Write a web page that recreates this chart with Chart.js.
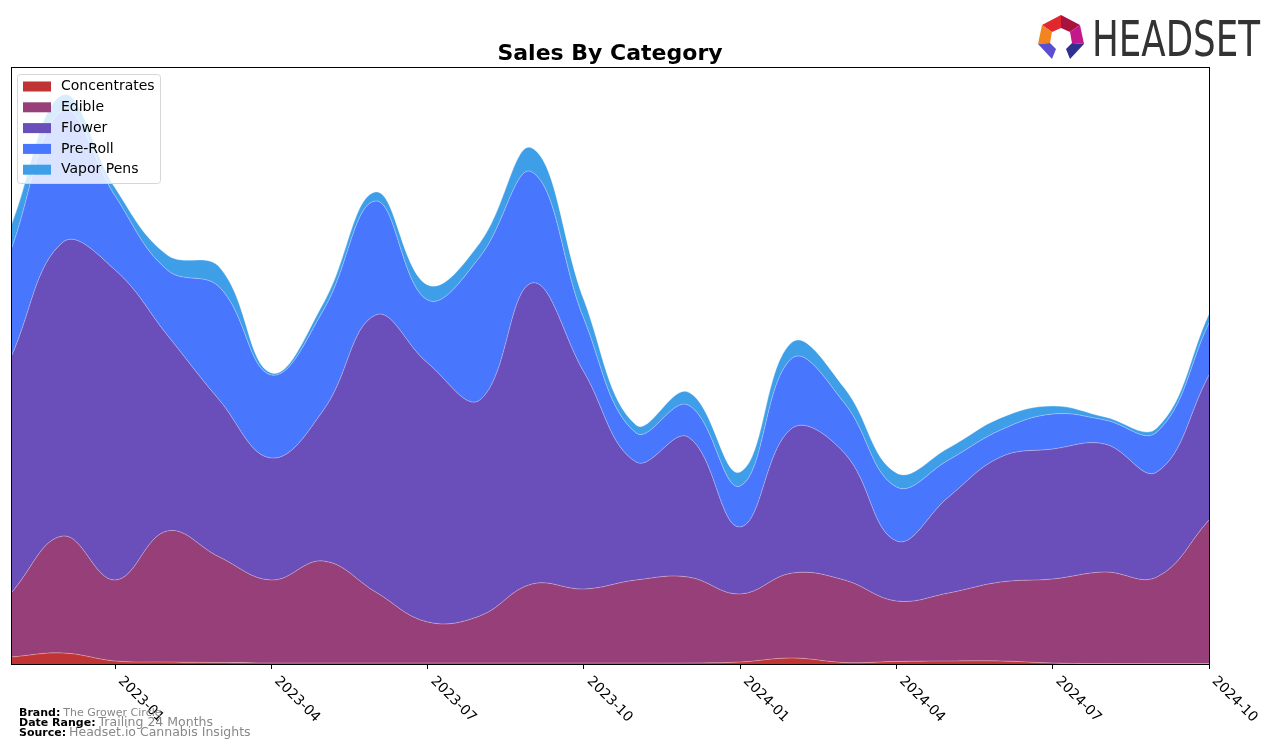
<!DOCTYPE html>
<html>
<head>
<meta charset="utf-8">
<script src="https://cdn.jsdelivr.net/npm/chart.js@4.4.1/dist/chart.umd.min.js"></script>
<style>
  html, body { margin: 0; padding: 0; background: #fff; }
  #wrap { width: 1276px; height: 748px; }
</style>
</head>
<body>
<div id="wrap"><canvas id="salesChart" width="1276" height="748"></canvas></div>
<script>
const months = [
  "2022-11", "2022-12", "2023-01", "2023-02", "2023-03", "2023-04",
  "2023-05", "2023-06", "2023-07", "2023-08", "2023-09", "2023-10",
  "2023-11", "2023-12", "2024-01", "2024-02", "2024-03", "2024-04",
  "2024-05", "2024-06", "2024-07", "2024-08", "2024-09", "2024-10"
];
const tickMonths = ["2023-01", "2023-04", "2023-07", "2023-10", "2024-01", "2024-04", "2024-07", "2024-10"];

const concentrates = [7, 11, 3, 2, 1.5, 1, 1, 1, 1, 1, 1, 1, 1, 1, 2, 6, 1.5, 2.5, 3, 3, 1, 0.5, 0.5, 0.5];
const edible = [64, 117, 81, 131, 105.5, 83, 102, 71, 41, 47, 79, 74, 83, 86, 68, 85, 82.5, 60.5, 68, 79, 84, 91.5, 86.5, 143.5];
const flower = [236, 294, 310, 196, 157, 122, 151, 277, 259, 216, 301, 217, 118, 140, 67, 145, 127, 60, 96, 125, 130, 128, 105, 145];
const preRoll = [107, 132, 74, 65, 113, 83, 100, 114, 63, 143, 111, 53, 29, 32, 41, 70, 50, 54, 37, 27, 35, 24, 40, 52];
const vaporPens = [24, 15, 8, 15, 20, 2, 7, 9, 15, 14, 24, 19, 8, 13, 14, 16, 15, 14, 12, 12, 8, 3, 4, 9];

const seriesNames = ["Concentrates", "Edible", "Flower", "Pre-Roll", "Vapor Pens"];
const seriesColors = ["#c03434", "#973f78", "#6a4fbb", "#4876fd", "#3e9fe8"];
const seriesValues = [concentrates, edible, flower, preRoll, vaporPens];

const FONT = "'DejaVu Sans', sans-serif";

function toPoints(values) {
  return values.map((v, i) => ({ x: i, y: v }));
}

const overlay = {
  id: "overlay",
  afterDatasetsDraw(chart) {
    const { ctx, chartArea } = chart;

    // plot frame
    ctx.save();
    ctx.strokeStyle = "#000";
    ctx.lineWidth = 1;
    ctx.strokeRect(chartArea.left + 0.5, chartArea.top + 0.5,
      chartArea.right - chartArea.left, chartArea.bottom - chartArea.top);
    ctx.restore();

    // legend, matplotlib style
    const lx = chartArea.left + 6;
    const ly = chartArea.top + 7;
    ctx.save();
    ctx.beginPath();
    ctx.roundRect(lx + 0.5, ly + 0.5, 143, 109, 3);
    ctx.fillStyle = "rgba(255,255,255,0.8)";
    ctx.fill();
    ctx.strokeStyle = "#d6d6d6";
    ctx.lineWidth = 1;
    ctx.stroke();
    ctx.font = "14px " + FONT;
    ctx.textBaseline = "middle";
    ctx.textAlign = "left";
    chart.data.datasets.forEach((ds, i) => {
      const cy = ly + 12.5 + i * 20.8;
      ctx.fillStyle = ds.backgroundColor;
      ctx.fillRect(lx + 6, cy - 5, 28, 10);
      ctx.fillStyle = "#000";
      ctx.fillText(ds.label, lx + 44, cy);
    });
    ctx.restore();
  },
  afterDraw(chart) {
    const { ctx, chartArea } = chart;
    const xs = chart.scales.x;

    // title
    ctx.save();
    ctx.fillStyle = "#000";
    ctx.font = "bold 22px " + FONT;
    ctx.textAlign = "center";
    ctx.textBaseline = "alphabetic";
    ctx.fillText("Sales By Category", (chartArea.left + chartArea.right) / 2, 60);
    ctx.restore();

    // rotated tick labels
    ctx.save();
    ctx.font = "13.9px " + FONT;
    ctx.fillStyle = "#000";
    ctx.textAlign = "left";
    ctx.textBaseline = "top";
    tickMonths.forEach((m) => {
      const x = xs.getPixelForValue(months.indexOf(m));
      ctx.save();
      ctx.translate(x + 10, chartArea.bottom + 10);
      ctx.rotate(Math.PI / 4);
      ctx.fillText(m, 0, 0);
      ctx.restore();
    });
    ctx.restore();

    // footer
    ctx.save();
    ctx.textAlign = "left";
    ctx.textBaseline = "alphabetic";
    const rows = [
      ["Brand:", "The Grower Circle", 11, 716],
      ["Date Range:", "Trailing 24 Months", 12.5, 726],
      ["Source:", "Headset.io Cannabis Insights", 12.5, 736]
    ];
    rows.forEach(([label, value, size, y]) => {
      ctx.font = "bold 11px " + FONT;
      ctx.fillStyle = "#000";
      ctx.fillText(label, 19, y);
      const w = ctx.measureText(label).width;
      ctx.font = size + "px " + FONT;
      ctx.fillStyle = "#888";
      ctx.fillText(value, 19 + w + 3, y);
    });
    ctx.restore();

    // logo
    ctx.save();
    const poly = (color, pts) => {
      ctx.beginPath();
      ctx.moveTo(pts[0][0], pts[0][1]);
      pts.slice(1).forEach((p) => ctx.lineTo(p[0], p[1]));
      ctx.closePath();
      ctx.fillStyle = color;
      ctx.fill();
    };
    poly("#e2282e", [[1061, 15], [1042, 25], [1052, 32], [1061, 28]]);
    poly("#a8123e", [[1061, 15], [1080, 25], [1070, 32], [1061, 28]]);
    poly("#f4841f", [[1042, 25], [1038, 44], [1050, 43], [1052, 32]]);
    poly("#c2188b", [[1080, 25], [1084, 44], [1072, 43], [1070, 32]]);
    poly("#5b4fcf", [[1038, 44], [1050, 43], [1056, 49], [1052, 59]]);
    poly("#2e3192", [[1084, 44], [1072, 43], [1066, 49], [1070, 59]]);
    ctx.fillStyle = "#333";
    ctx.font = "49px " + FONT;
    ctx.textBaseline = "alphabetic";
    const tw = ctx.measureText("HEADSET").width;
    ctx.translate(1092, 56);
    ctx.scale(168 / tw, 1);
    ctx.fillText("HEADSET", 0, 0);
    ctx.restore();
  }
};

const datasets = seriesNames.map((name, i) => ({
  label: name,
  data: toPoints(seriesValues[i]),
  backgroundColor: seriesColors[i],
  borderColor: "rgba(255,255,255,0.3)",
  borderWidth: 1,
  pointRadius: 0,
  tension: 0.4,
  fill: i === 0 ? "origin" : "-1"
}));

new Chart(document.getElementById("salesChart"), {
  type: "line",
  data: { datasets },
  plugins: [overlay],
  options: {
    responsive: false,
    animation: false,
    layout: { padding: { left: 11, right: 67, top: 67, bottom: 79 } },
    plugins: {
      legend: { display: false },
      title: { display: false },
      tooltip: { enabled: false }
    },
    scales: {
      x: {
        type: "linear",
        min: 0,
        max: months.length - 1,
        afterBuildTicks(scale) {
          scale.ticks = tickMonths.map((m) => ({ value: months.indexOf(m) }));
        },
        ticks: { display: false },
        border: { display: false },
        grid: { drawOnChartArea: false, color: "#000", tickLength: 5, tickWidth: 1 }
      },
      y: {
        display: false,
        stacked: true,
        min: 0,
        max: 597
      }
    }
  }
});
</script>
</body>
</html>
